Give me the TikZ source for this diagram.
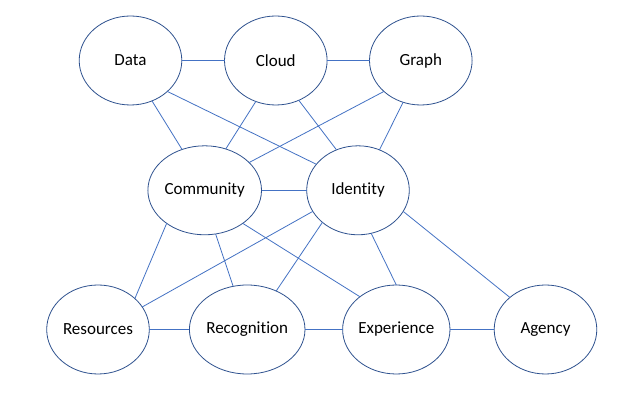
\documentclass[tikz,border=0pt]{standalone}
\usepackage{fontspec}
\setmainfont[Ligatures=NoCommon]{Carlito}
\usetikzlibrary{shapes.geometric}
\definecolor{edgeblue}{RGB}{68,114,196}
\definecolor{rimblue}{RGB}{47,82,143}
\begin{document}
\begin{tikzpicture}[x=1pt,y=1pt,
  topic/.style={ellipse, draw=rimblue, line width=0.8pt, fill=white,
    minimum width=102.6pt, minimum height=89pt, inner sep=0pt, outer sep=0pt,
    font=\fontsize{17}{20}\selectfont, text=black},
  link/.style={draw=edgeblue, line width=0.8pt}]
\fill[white] (0,0) rectangle (640,412);
\useasboundingbox (0,0) rectangle (640,412);
% nodes (x, 412 - y)
\node[topic] (data) at (130.5,351.5) {Data};
\node[topic] (cloud) at (275.8,351.5) {Cloud};
\node[topic] (graph) at (420.8,351.5) {Graph};
\node[topic] (comm) at (204.7,221.7) {Community};
\node[topic] (ident) at (358,221.7) {Identity};
\node[topic] (res) at (98,82.5) {Resources};
\node[topic] (rec) at (247.2,82.5) {Recognition};
\node[topic] (exp) at (396.3,82.5) {Experience};
\node[topic] (agen) at (545.5,82.5) {Agency};
% connectors
\draw[link] (data.0) -- (cloud.180);
\draw[link] (cloud.0) -- (graph.180);
\draw[link] (data.-62.4) -- (comm.119.7);
\draw[link] (data.-40.4) -- (ident.148.5);
\draw[link] (cloud.-116.1) -- (comm.63.7);
\draw[link] (cloud.-60.3) -- (ident.118.6);
\draw[link] (graph.-140.5) -- (comm.32.1);
\draw[link] (graph.-113.2) -- (ident.62.1);
\draw[link] (comm.0) -- (ident.180);
\draw[link] (comm.-139.5) -- (res.40.1);
\draw[link] (comm.-76.5) -- (rec.108);
\draw[link] (comm.-41.2) -- (exp.138.4);
\draw[link] (ident.-155.2) -- (res.27);
\draw[link] (ident.-138.2) -- (rec.53.7);
\draw[link] (ident.-73) -- (exp.90.8);
\draw[link] (ident.-25.3) -- (agen.138.7);
\draw[link] (res.0) -- (rec.180);
\draw[link] (rec.0) -- (exp.180);
\draw[link] (exp.0) -- (agen.180);
\end{tikzpicture}
\end{document}
